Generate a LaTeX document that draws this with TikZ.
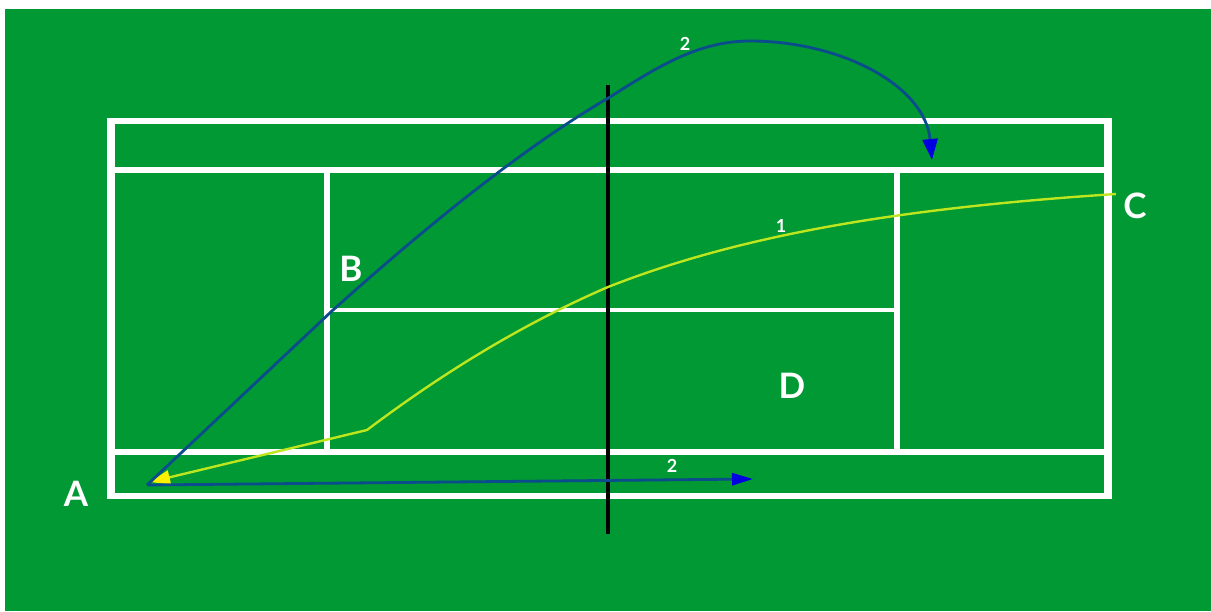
\documentclass[tikz,border=0pt]{standalone}
\usepackage{fontspec}
\setmainfont{Lato}
\usetikzlibrary{arrows.meta}
\definecolor{turf}{HTML}{009933}
\definecolor{trajblue}{HTML}{0A4C8C}
\definecolor{tipblue}{HTML}{0000E0}
\definecolor{trajyellow}{HTML}{BEE61E}
\definecolor{tipyellow}{HTML}{FFF000}
\tikzset{
  courtH/.style={draw=white,line width=5.5pt},
  courtV/.style={draw=white,line width=5.5pt},
  courtO/.style={draw=white,line width=7.5pt},
  courtT/.style={draw=white,line width=6pt},
  netline/.style={draw=black,line width=3.5pt},
  blueball/.style={draw=trajblue,line width=2.8pt,-{Triangle[length=21pt,width=15pt,fill=tipblue,color=tipblue]}},
  blueballh/.style={draw=trajblue,line width=2.8pt,-{Triangle[length=21pt,width=12pt,fill=tipblue,color=tipblue]}},
  yellowball/.style={draw=trajyellow,line width=2.4pt,-{Triangle[length=20pt,width=14pt,fill=tipyellow,color=tipyellow]}},
  letter/.style={text=white,font=\bfseries\fontsize{35}{35}\selectfont,inner sep=0pt},
  num/.style={text=white,font=\bfseries\fontsize{18}{18}\selectfont,inner sep=0pt}
}
\begin{document}
\begin{tikzpicture}[x=1pt,y=-1pt]
\useasboundingbox (0,0) rectangle (1211,611);
\fill[white] (0,0) rectangle (1211,611);
\fill[turf] (5,9) rectangle (1211,611);
% court
\draw[courtT] (111,121) -- (1108,121);
\draw[courtT] (111,496) -- (1108,496);
\draw[courtO] (111,118) -- (111,499);
\draw[courtO] (1108,118) -- (1108,499);
\draw[courtH] (111,170) -- (1108,170);
\draw[courtH] (111,452) -- (1108,452);
\draw[courtV] (327,170) -- (327,452);
\draw[courtV] (897,170) -- (897,452);
\draw[draw=white,line width=4pt] (327,310) -- (897,310);
% net
\coordinate (nettop) at (608,85);
\coordinate (netbot) at (608,534);
\draw[netline] (nettop) -- (netbot);
% labels
\node[letter] (A) at (76,494) {A};
\node[letter] (B) at (351,269) {B};
\node[letter] (C) at (1135,206) {C};
\node[letter] (D) at (792,386) {D};
\node[num] (n1) at (781,226) {1};
\node[num] (n2a) at (685,44) {2};
\node[num] (n2b) at (672,466) {2};
% trajectory points
\coordinate (a) at (147,485);
\coordinate (b) at (333,310);
\coordinate (c) at (1116,194);
\coordinate (k) at (367,430);
\coordinate (ny) at (608,287);
\coordinate (q) at (610,97);
\coordinate (apex) at (750,41);
\coordinate (land) at (932,160);
\coordinate (far) at (753,479);
\coordinate (ya) at (150,482);
% yellow
\draw[yellowball] (c) .. controls (900,208) and (740,235) .. (ny)
  .. controls (520,325) and (440,375) .. (k) -- (ya);
% blue
\draw[blueball] (a) -- (b) .. controls (400,250) and (510,155) .. (q)
  .. controls (660,65) and (700,41) .. (apex)
  .. controls (840,41) and (925,85) .. (land);
\draw[blueballh] (a) -- (far);
\end{tikzpicture}
\end{document}
